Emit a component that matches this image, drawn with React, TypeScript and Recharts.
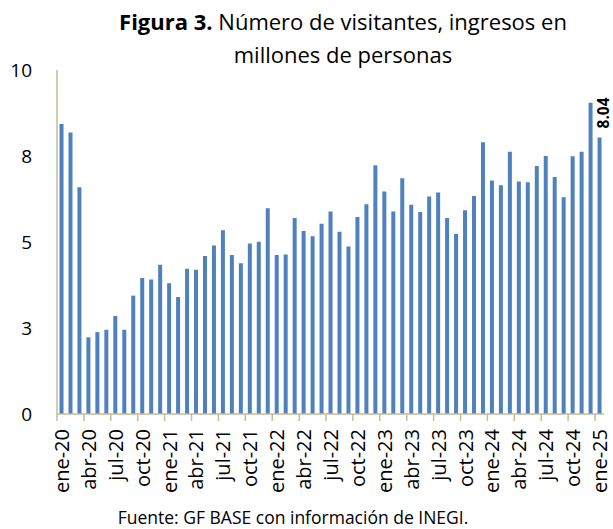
import { Bar, BarChart, XAxis, YAxis } from 'recharts';

const MONTHS = ['ene', 'feb', 'mar', 'abr', 'may', 'jun', 'jul', 'ago', 'sep', 'oct', 'nov', 'dic'];
const YEARS = ['20', '21', '22', '23', '24', '25'];

// visitantes (millones), ene-20 .. ene-25
const VISITANTES = [
  8.43, 8.18, 6.59, 2.23, 2.38, 2.45, 2.85, 2.45, 3.44, 3.95, 3.91, 4.34,
  3.8, 3.4, 4.22, 4.19, 4.59, 4.9, 5.34, 4.62, 4.38, 4.96, 5.01, 5.98,
  4.62, 4.64, 5.7, 5.32, 5.17, 5.53, 5.89, 5.3, 4.87, 5.73, 6.1, 7.23,
  6.47, 5.89, 6.85, 6.08, 5.87, 6.32, 6.44, 5.7, 5.23, 5.92, 6.34, 7.9,
  6.79, 6.65, 7.62, 6.76, 6.74, 7.21, 7.5, 6.89, 6.3, 7.49, 7.62, 9.05,
  8.04,
];

const Y_TICKS = [0, 2.5, 5, 7.5, 10];

const categories = VISITANTES.map((_, i) => `${MONTHS[i % 12]}-${YEARS[Math.floor(i / 12)]}`);
const data = categories.map((mes, i) => ({ mes, valor: VISITANTES[i] }));

const FONT = '"Open Sans", sans-serif';
const AXIS_COLOR = '#c4bc96';
const PLOT_LEFT = 57;
const PLOT_RIGHT = 604;
const BAND = (PLOT_RIGHT - PLOT_LEFT) / data.length;

function MonthTick({ x, y, payload }: any) {
  const lx = x - BAND / 2;
  const ty = y + 15;
  return (
    <g>
      <line x1={lx} y1={y} x2={lx} y2={y + 7} stroke={AXIS_COLOR} strokeWidth={1.5} />
      <text
        x={x}
        y={ty}
        transform={`rotate(-90 ${x} ${ty})`}
        textAnchor="end"
        dominantBaseline="central"
        fontFamily={FONT}
        fontSize={20}
        fill="#000"
      >
        {payload.value}
      </text>
    </g>
  );
}

function LastLabel({ x, y, width, index, value }: any) {
  if (index !== data.length - 1) return null;
  const cx = x + width / 2 + 3;
  const ty = y - 9;
  return (
    <text
      x={cx}
      y={ty}
      transform={`rotate(-90 ${cx} ${ty})`}
      textAnchor="start"
      dominantBaseline="central"
      fontFamily={FONT}
      fontSize={15.5}
      fontWeight="bold"
      fill="#000"
    >
      {Number(value).toFixed(2)}
    </text>
  );
}

export default function App() {
  return (
    <div style={{ position: 'absolute', left: 0, top: 0, width: 613, height: 529, background: '#fff', fontFamily: FONT }}>
      <div style={{ position: 'absolute', left: 0, width: 686, top: 5, textAlign: 'center', fontSize: 22, lineHeight: '33px', color: '#000' }}>
        <b>Figura 3.</b> Número de visitantes, ingresos en
        <br />
        millones de personas
      </div>
      <BarChart
        width={613}
        height={529}
        data={data}
        margin={{ top: 70, right: 613 - PLOT_RIGHT, bottom: 25, left: 0 }}
        barCategoryGap="28%"
      >
        <YAxis
          width={PLOT_LEFT}
          domain={[0, 10]}
          ticks={Y_TICKS}
          tickFormatter={(v: number) => String(Math.round(v))}
          tickLine={false}
          tickMargin={19}
          axisLine={{ stroke: AXIS_COLOR, strokeWidth: 1.5 }}
          tick={{ fill: '#000', fontSize: 19, fontFamily: FONT }}
        />
        <XAxis
          dataKey="mes"
          interval={2}
          height={90}
          tickSize={0}
          tickMargin={0}
          tickLine={false}
          axisLine={{ stroke: AXIS_COLOR, strokeWidth: 1.5 }}
          tick={<MonthTick />}
        />
        <Bar dataKey="valor" fill="#4f81bd" isAnimationActive={false} label={<LastLabel />} />
      </BarChart>
      <div style={{ position: 'absolute', left: 0, width: 586, top: 505, textAlign: 'center', fontSize: 17.5, lineHeight: '24px', color: '#000' }}>
        Fuente: GF BASE con información de INEGI.
      </div>
    </div>
  );
}
